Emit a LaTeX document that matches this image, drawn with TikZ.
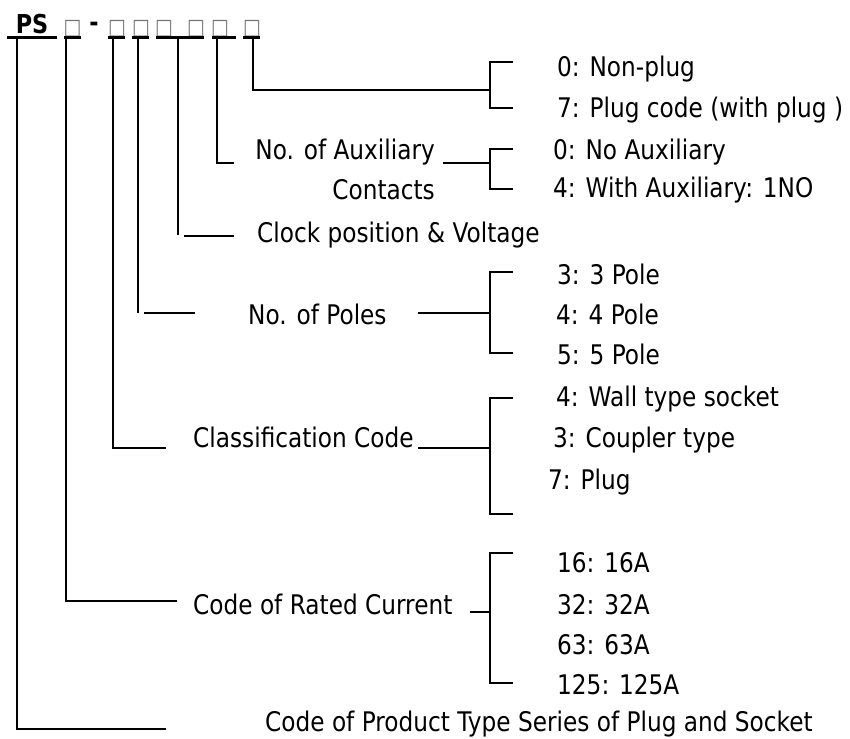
\documentclass[tikz,border=0pt]{standalone}
\usepackage{fontspec}
\setmainfont{DejaVu Sans}[FakeStretch=0.86]

\begin{document}
\begin{tikzpicture}[
      x=1pt, y=-1pt,
      font=\fontsize{27}{30}\selectfont,
      lbl/.style={
        anchor=west,
        inner sep=0pt,
        text height=19.5pt,
        text depth=0pt
      },
      lblr/.style={lbl, anchor=east},
      slot/.style={
        inner sep=0pt,
        text=black!55,
        font=\fontsize{22}{22}\selectfont
      },
      uline/.style={line width=3pt},
      wire/.style={line width=1.6pt},
      brack/.style={line width=1.6pt}
    ]
    \useasboundingbox (0,0) rectangle (850,738);

    % code line
    \node[inner sep=0pt, font=\fontsize{26}{26}\selectfont\bfseries, anchor=base] (ps) at (32,34) {PS};
    \node[slot] (s1) at (72.5,29) {□};
    \node[inner sep=0pt, font=\fontsize{26}{26}\selectfont\bfseries] (dash) at (94,27) {-};
    \node[slot] (s2) at (117,29) {□};
    \node[slot] (s3) at (141,29) {□};
    \node[slot] (s4) at (164,29) {□};
    \node[slot] (s5) at (196,29) {□};
    \node[slot] (s6) at (220,29) {□};
    \node[slot] (s7) at (252,29) {□};

    \draw[uline] (7,38) -- (57,38);
    \draw[uline] (64,38) -- (81,38);
    \draw[uline] (108,38) -- (125,38);
    \draw[uline] (132,38) -- (149,38);
    \draw[uline] (156,38) -- (204,38);
    \draw[uline] (212,38) -- (236,38);
    \draw[uline] (243,38) -- (260,38);

    \coordinate (dps) at (17,39);
    \coordinate (d1) at (66,39);
    \coordinate (d2) at (113,39);
    \coordinate (d3) at (138,39);
    \coordinate (d45) at (178,39);
    \coordinate (d6) at (217,39);
    \coordinate (d7) at (253,39);

    % labels
    \node[lbl] (plug0) at (557,67) {0: Non-plug};
    \node[lbl] (plug7) at (557,108) {7: Plug code (with plug )};

    \node[lblr] (aux) at (435,150) {No. of Auxiliary};
    \node[lblr] (auxb) at (435,190) {Contacts};
    \node[lbl] (aux0) at (553,150) {0: No Auxiliary};
    \node[lbl] (aux4) at (553,188) {4: With Auxiliary: 1NO};

    \node[lbl] (clock) at (257,233) {Clock position \& Voltage};

    \node[lbl] (poles) at (248,315) {No. of Poles};
    \node[lbl] (p3) at (557,275) {3: 3 Pole};
    \node[lbl] (p4) at (556,315) {4: 4 Pole};
    \node[lbl] (p5) at (557,355) {5: 5 Pole};

    \node[lbl] (cls) at (193,438) {Classification Code};
    \node[lbl] (c4) at (556,397) {4: Wall type socket};
    \node[lbl] (c3) at (553,438) {3: Coupler type};
    \node[lbl] (c7) at (548,480) {7: Plug};

    \node[lbl] (rated) at (193,605) {Code of Rated Current};
    \node[lbl] (r16) at (557,563) {16: 16A};
    \node[lbl] (r32) at (557,605) {32: 32A};
    \node[lbl] (r63) at (557,645) {63: 63A};
    \node[lbl] (r125) at (557,685) {125: 125A};

    \node[lbl] (series) at (265,722) {Code of Product Type Series of Plug and Socket};

    % bracket joints
    \coordinate (kplug) at (490,90);
    \coordinate (kaux) at (490,163);
    \coordinate (kpole) at (490,313);
    \coordinate (kcls) at (490,448);
    \coordinate (krated) at (490,612);

    % connectors
    \draw[wire] (d7) |- (kplug);
    \draw[wire] (d6) |- (234,163);
    \draw[wire] (443,163) -- (kaux);
    \draw[wire] (d45) -- (178,235);
    \draw[wire] (184,236) -- (234,236);
    \draw[wire] (d3) -- (138,313);
    \draw[wire] (144,313) -- (195,313);
    \draw[wire] (418,313) -- (kpole);
    \draw[wire] (d2) |- (166,448);
    \draw[wire] (418,448) -- (kcls);
    \draw[wire] (d1) |- (177,601);
    \draw[wire] (470,612) -- (krated);
    \draw[wire] (dps) |- (166,729);

    % brackets
    \draw[brack] (513,62) -| (490,108) -- (513,108);
    \draw[brack] (513,149) -| (490,189) -- (513,189);
    \draw[brack] (513,272) -| (490,353) -- (513,353);
    \draw[brack] (513,398) -| (490,514) -- (513,514);
    \draw[brack] (513,553) -| (490,683) -- (513,683);
    \end{tikzpicture}
\end{document}
